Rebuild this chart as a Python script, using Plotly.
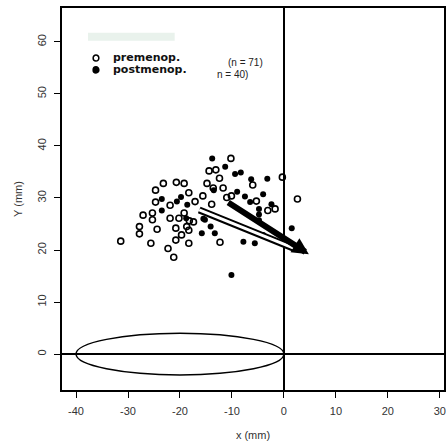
import plotly.graph_objects as go

# premenopausal (open circles)
pre_x = [-31.4, -23.2, -20.7, -19.2, -24.7, -18.3, -24.7, -21.9, -17.1, -27.1, -25.3, -25.3,
         -21.9, -20.2, -19.2, -18.2, -27.8, -27.8, -24.4, -20.8, -18.7, -18.3, -19.7, -25.6,
         -20.8, -18.3, -22.3, -21.2, -15.6, -14.8, -14.4, -13.1, -10.2, -12.4, -13.6, -11.7,
         -11.0, -10.1, -6.0, -0.3, 2.6, -5.3, -3.1, -1.7, -13.9, -12.3, -17.4]
pre_y = [21.7, 32.8, 33.0, 32.8, 31.5, 31.0, 29.2, 28.6, 29.3, 26.7, 27.1, 25.8,
         26.1, 26.1, 27.1, 25.6, 24.5, 23.1, 24.0, 24.2, 24.5, 23.8, 22.9, 21.3,
         21.9, 21.3, 20.3, 18.6, 30.4, 32.8, 35.2, 35.4, 37.6, 33.8, 31.9, 31.9,
         30.1, 30.4, 32.5, 34.0, 29.8, 29.4, 27.6, 27.9, 28.8, 21.5, 25.4]

# postmenopausal (filled circles)
post_x = [-23.5, -23.5, -20.6, -19.8, -18.6, -18.8, -15.8, -15.2, -13.8, -11.3, -9.4, -8.3,
          -6.3, -3.2, -4.0, -13.5, -4.8, -2.4, -15.5, -14.1, -13.3, -7.8, -5.6, 1.5,
          -4.0, -10.1, -4.8, -4.8, -7.5, -6.5, -9.0]
post_y = [29.8, 27.6, 29.3, 30.2, 28.7, 26.1, 23.2, 25.8, 37.6, 36.0, 34.6, 34.9,
          33.6, 33.7, 30.7, 31.5, 27.9, 28.8, 26.0, 24.5, 23.2, 21.6, 21.3, 24.2,
          22.9, 15.2, 26.8, 25.7, 30.3, 29.2, 31.2]

# mean displacement arrows (tail -> head)
pre_arrow_x = [-16.3, 2.0]
pre_arrow_y = [27.7, 20.3]
post_arrow_x = [-11.0, 4.8]
post_arrow_y = [29.3, 19.2]

# reference ellipse (centre, semi-axes)
ell_cx, ell_cy, ell_rx, ell_ry = -20.0, 0.0, 20.0, 4.0

x_ticks = [-40, -30, -20, -10, 0, 10, 20, 30]
y_ticks = [0, 10, 20, 30, 40, 50, 60]
x_range = [-42.7, 30.8]
y_range = [-6.9, 66.5]

font = "Liberation Sans, Arial, sans-serif"

fig = go.Figure()

fig.add_trace(go.Scatter(x=pre_x, y=pre_y, mode="markers", name="premenop.",
                         marker=dict(symbol="circle-open", size=6, color="black",
                                     line=dict(width=1.6, color="black"))))
fig.add_trace(go.Scatter(x=post_x, y=post_y, mode="markers", name="postmenop.",
                         marker=dict(symbol="circle", size=6, color="black")))

# hollow arrow shaft (premenop.)
fig.add_trace(go.Scatter(x=pre_arrow_x, y=pre_arrow_y, mode="lines",
                         line=dict(color="black", width=7), hoverinfo="skip"))
fig.add_trace(go.Scatter(x=pre_arrow_x, y=pre_arrow_y, mode="lines",
                         line=dict(color="white", width=3), hoverinfo="skip"))

# solid arrow (postmenop.)
fig.add_annotation(x=post_arrow_x[1], y=post_arrow_y[1], ax=post_arrow_x[0], ay=post_arrow_y[0],
                   xref="x", yref="y", axref="x", ayref="y", text="", showarrow=True,
                   arrowhead=2, arrowsize=0.55, arrowwidth=6, arrowcolor="black")

# ellipse
fig.add_shape(type="circle", xref="x", yref="y",
              x0=ell_cx - ell_rx, x1=ell_cx + ell_rx, y0=ell_cy - ell_ry, y1=ell_cy + ell_ry,
              line=dict(color="black", width=1.5))

# legend (manual)
fig.add_shape(type="rect", xref="paper", yref="paper", x0=0.068, x1=0.295, y0=0.914, y1=0.935,
              fillcolor="#e9f2ec", line=dict(width=0), layer="below")
fig.add_shape(type="circle", xref="paper", yref="paper", x0=0.0815, x1=0.0965, y0=0.861, y1=0.877,
              line=dict(color="black", width=1.5), fillcolor="white")
fig.add_shape(type="circle", xref="paper", yref="paper", x0=0.0815, x1=0.0965, y0=0.830, y1=0.846,
              line=dict(color="black", width=1.5), fillcolor="black")
fig.add_annotation(xref="paper", yref="paper", x=0.128, y=0.871, text="<b>premenop.</b>",
                   showarrow=False, xanchor="left", yanchor="middle",
                   font=dict(family="DejaVu Sans", size=11, color="#111"))
fig.add_annotation(xref="paper", yref="paper", x=0.128, y=0.840, text="<b>postmenop.</b>",
                   showarrow=False, xanchor="left", yanchor="middle",
                   font=dict(family="DejaVu Sans", size=11, color="#111"))
fig.add_annotation(xref="paper", yref="paper", x=0.43, y=0.858, text="(n = 71)",
                   showarrow=False, xanchor="left", yanchor="middle",
                   font=dict(family=font, size=10, color="#222"))
fig.add_annotation(xref="paper", yref="paper", x=0.40, y=0.827, text="n = 40)",
                   showarrow=False, xanchor="left", yanchor="middle",
                   font=dict(family=font, size=10, color="#222"))

axis_common = dict(showgrid=False, showline=True, linecolor="black", linewidth=1.5, mirror=True,
                   ticks="outside", ticklen=6, tickcolor="black", tickwidth=1.2,
                   zeroline=True, zerolinecolor="black", zerolinewidth=1.5, automargin=False,
                   ticklabelstandoff=4,
                   tickfont=dict(family=font, size=11, color="#333"))

fig.update_xaxes(range=x_range, tickvals=x_ticks, ticktext=[str(v) for v in x_ticks],
                 title=dict(text="x (mm)", font=dict(family=font, size=11, color="#333"), standoff=15),
                 **axis_common)
fig.update_yaxes(range=y_range, tickvals=y_ticks, ticktext=[str(v) for v in y_ticks], tickangle=-90,
                 title=dict(text="Y (mm)", font=dict(family=font, size=11, color="#333"), standoff=11),
                 **axis_common)

fig.update_layout(width=446, height=445, margin=dict(l=62, r=2, t=8, b=55),
                  plot_bgcolor="white", paper_bgcolor="white", showlegend=False)

# remove the default page margin so the figure fills the window exactly
fig.write_html("out.html", config={"displayModeBar": False},
               post_script="document.body.style.margin='0';document.body.style.overflow='hidden';")
